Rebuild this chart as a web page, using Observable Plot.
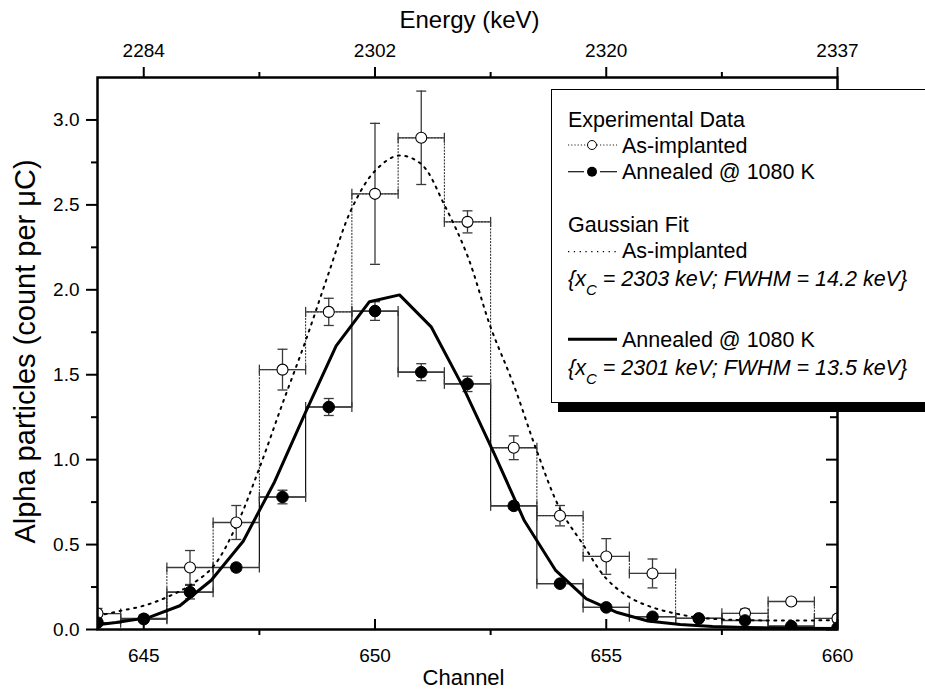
<!DOCTYPE html>
<html>
<head>
<meta charset="utf-8">
<script src="https://cdn.jsdelivr.net/npm/d3@7"></script>
<script src="https://cdn.jsdelivr.net/npm/@observablehq/plot@0.6"></script>
<style>
  body { margin: 0; background: #fff; }
  #chart { width: 925px; height: 693px; }
</style>
</head>
<body>
<div id="chart"></div>
<script>
// ---------- data ----------
const channels = [644,645,646,647,648,649,650,651,652,653,654,655,656,657,658,659,660];
const asImplanted    = [0.094,0.065,0.365,0.63,1.53,1.87,2.565,2.895,2.40,1.07,0.67,0.43,0.33,0.065,0.095,0.165,0.065];
const asImplantedErr = [0.03,0.02,0.10,0.10,0.12,0.08,0.415,0.275,0.065,0.07,0.06,0.105,0.085,0.015,0.025,0.015,0.02];
const annealed       = [0.04,0.061,0.22,0.365,0.78,1.31,1.875,1.515,1.446,0.728,0.27,0.13,0.075,0.065,0.053,0.02,0.01];
const annealedErr    = [0.01,0.01,0.04,0.02,0.04,0.05,0.055,0.05,0.045,0.02,0.015,0.015,0.01,0.01,0.01,0.01,0.01];

// Gaussian fit curves
const fitAsChannel = [644,644.5,645,645.5,646,646.5,647,647.5,648,648.5,649,649.5,650,650.5,651,651.5,652,652.5,653,653.5,654,654.5,655,655.5,656,656.5,657,657.5,658,659,660];
const fitAsValue   = [0.08,0.11,0.14,0.19,0.26,0.37,0.61,0.95,1.33,1.70,2.10,2.48,2.70,2.79,2.74,2.50,2.20,1.78,1.44,1.05,0.71,0.50,0.30,0.19,0.13,0.094,0.07,0.06,0.055,0.053,0.055];
const fitAnChannel = [644,644.4,645.1,645.78,646.46,647.15,647.83,648.5,649.16,649.88,650.53,651.22,651.9,652.57,653.23,653.9,654.57,655.24,655.9,656.6,657.3,658,659,660];
const fitAnValue   = [0.028,0.041,0.07,0.14,0.29,0.52,0.87,1.28,1.67,1.93,1.97,1.78,1.43,1.04,0.64,0.35,0.18,0.10,0.05,0.03,0.018,0.012,0.008,0.006];

// axes
const channelTicks = [645,650,655,660];
const channelMinor = [647.5,652.5,657.5];
const energyLabels = ["2284","2302","2320","2337"];
const yMajor = [0,0.5,1.0,1.5,2.0,2.5,3.0];
const yMinor = [0.25,0.75,1.25,1.75,2.25,2.75];
const xTitle = "Channel";
const x2Title = "Energy (keV)";
const yTitle = "Alpha particles (count per \u03bcC)";

// ---------- build ----------
const asData = channels.map((c, i) => ({c, v: asImplanted[i], e: asImplantedErr[i]}));
const anData = channels.map((c, i) => ({c, v: annealed[i], e: annealedErr[i]}));
const fitAs = fitAsChannel.map((c, i) => ({c, v: fitAsValue[i]}));
const fitAn = fitAnChannel.map((c, i) => ({c, v: fitAnValue[i]}));

const W = 925, H = 693, mL = 97, mR = 88, mT = 77, mB = 64;
const plotW = W - mL - mR, plotH = H - mT - mB;
const FONT = "'Liberation Sans', Arial, Helvetica, sans-serif";

const vCap = {draw(ctx, size) { const r = Math.sqrt(size / Math.PI); ctx.moveTo(0, -r); ctx.lineTo(0, r); }};
const hCap = {draw(ctx, size) { const r = Math.sqrt(size / Math.PI); ctx.moveTo(-r, 0); ctx.lineTo(r, 0); }};
const ebColor = "#3a3a3a";

function errorMarks(data) {
  return [
    Plot.ruleY(data, {y: "v", x1: d => d.c - 0.5, x2: d => d.c + 0.5, stroke: ebColor, strokeWidth: 1.3, clip: true}),
    Plot.dot(data, {x: d => d.c - 0.5, y: "v", symbol: vCap, r: 5, stroke: ebColor, strokeWidth: 1.3, fill: "none", clip: true}),
    Plot.dot(data, {x: d => d.c + 0.5, y: "v", symbol: vCap, r: 5, stroke: ebColor, strokeWidth: 1.3, fill: "none", clip: true}),
    Plot.ruleX(data, {x: "c", y1: d => d.v - d.e, y2: d => d.v + d.e, stroke: ebColor, strokeWidth: 1.3, clip: true}),
    Plot.dot(data, {x: "c", y: d => d.v - d.e, symbol: hCap, r: 5, stroke: ebColor, strokeWidth: 1.3, fill: "none", clip: true}),
    Plot.dot(data, {x: "c", y: d => d.v + d.e, symbol: hCap, r: 5, stroke: ebColor, strokeWidth: 1.3, fill: "none", clip: true})
  ];
}

const chart = Plot.plot({
  width: W, height: H,
  marginLeft: mL, marginRight: mR, marginTop: mT, marginBottom: mB,
  x: {domain: [644, 660], axis: null},
  y: {domain: [0, 3.25], axis: null},
  style: {fontFamily: FONT, fontSize: "19px", color: "#000", background: "#fff", overflow: "visible"},
  marks: [
    // histogram steps
    Plot.line(asData, {x: "c", y: "v", curve: "step", stroke: "#222", strokeWidth: 1, strokeDasharray: "1.2,2", clip: true}),
    Plot.line(anData, {x: "c", y: "v", curve: "step", stroke: "#111", strokeWidth: 1.2, clip: true}),
    // error bars
    ...errorMarks(asData),
    ...errorMarks(anData),
    // gaussian fits
    Plot.line(fitAs, {x: "c", y: "v", curve: "catmull-rom", stroke: "#000", strokeWidth: 2, strokeDasharray: "2,5.5", clip: true}),
    Plot.line(fitAn, {x: "c", y: "v", curve: "linear", stroke: "#000", strokeWidth: 3, strokeLinejoin: "round", clip: true}),
    // data points
    Plot.dot(asData, {x: "c", y: "v", r: 5.5, fill: "#fff", stroke: "#000", strokeWidth: 1.1, clip: true}),
    Plot.dot(anData, {x: "c", y: "v", r: 5.8, fill: "#000", stroke: "#000", strokeWidth: 1, clip: true}),
    // ticks: left (outward)
    Plot.ruleY(yMajor, {y: d => d, insetLeft: -11, insetRight: plotW, strokeWidth: 2}),
    Plot.ruleY(yMinor, {y: d => d, insetLeft: -6, insetRight: plotW, strokeWidth: 2}),
    // right (inward)
    Plot.ruleY(yMajor, {y: d => d, insetLeft: plotW - 11, strokeWidth: 2}),
    Plot.ruleY(yMinor, {y: d => d, insetLeft: plotW - 7, strokeWidth: 2}),
    // top (outward)
    Plot.ruleX(channelTicks, {x: d => d, insetTop: -10, insetBottom: plotH, strokeWidth: 2}),
    Plot.ruleX(channelMinor, {x: d => d, insetTop: -5, insetBottom: plotH, strokeWidth: 2}),
    // bottom
    Plot.ruleX(channelTicks, {x: d => d, insetTop: plotH - 10, strokeWidth: 2}),
    Plot.ruleX(channelMinor, {x: d => d, insetTop: plotH, insetBottom: -6, strokeWidth: 2}),
    Plot.frame({stroke: "#000", strokeWidth: 2.5}),
    // tick labels
    Plot.text(yMajor, {y: d => d, text: d => d.toFixed(1), frameAnchor: "left", textAnchor: "end", dx: -18, fontSize: 19}),
    Plot.text(channelTicks, {x: d => d, text: d => String(d), frameAnchor: "bottom", lineAnchor: "middle", dy: 26, fontSize: 19}),
    Plot.text(channelTicks, {x: d => d, text: (d, i) => energyLabels[i], frameAnchor: "top", lineAnchor: "middle", dy: -27, fontSize: 19}),
    // titles
    Plot.text([xTitle], {frameAnchor: "bottom", textAnchor: "middle", lineAnchor: "middle", dy: 48, dx: -4, fontSize: 22}),
    Plot.text([x2Title], {frameAnchor: "top", textAnchor: "middle", lineAnchor: "middle", dy: -57, dx: 2, fontSize: 24}),
    Plot.text([yTitle], {frameAnchor: "left", textAnchor: "middle", lineAnchor: "middle", rotate: -90, dx: -72, dy: -2, fontSize: 29})
  ]
});

document.getElementById("chart").appendChild(chart);

// ---------- legend ----------
const svg = d3.select(chart);
const L = svg.append("g").attr("font-family", FONT).attr("font-size", 21.5).attr("fill", "#000")
  .attr("text-anchor", "start");
L.append("rect").attr("x", 558).attr("y", 96).attr("width", 400).attr("height", 316).attr("fill", "#000");
L.append("rect").attr("x", 551.5).attr("y", 89.5).attr("width", 400).attr("height", 313)
  .attr("fill", "#fff").attr("stroke", "#000").attr("stroke-width", 1);

const tx = 568, sx1 = 568, sx2 = 617, scx = 592, lx = 622;
L.append("text").attr("x", tx).attr("y", 126.7).text("Experimental Data");

L.append("line").attr("x1", sx1).attr("x2", sx2).attr("y1", 145).attr("y2", 145)
  .attr("stroke", "#222").attr("stroke-dasharray", "1.2,2");
L.append("circle").attr("cx", scx).attr("cy", 145).attr("r", 4.5).attr("fill", "#fff").attr("stroke", "#000");
L.append("text").attr("x", lx).attr("y", 152.7).text("As-implanted");

L.append("line").attr("x1", sx1).attr("x2", 584).attr("y1", 171.7).attr("y2", 171.7)
  .attr("stroke", "#111").attr("stroke-width", 1.2);
L.append("line").attr("x1", 600).attr("x2", sx2).attr("y1", 171.7).attr("y2", 171.7)
  .attr("stroke", "#111").attr("stroke-width", 1.2);
L.append("circle").attr("cx", scx).attr("cy", 171.7).attr("r", 5).attr("fill", "#000");
L.append("text").attr("x", lx).attr("y", 179.3).text("Annealed @ 1080 K");

L.append("text").attr("x", tx).attr("y", 231.7).text("Gaussian Fit");
L.append("line").attr("x1", sx1).attr("x2", sx2).attr("y1", 251.7).attr("y2", 251.7)
  .attr("stroke", "#000").attr("stroke-width", 1.3).attr("stroke-dasharray", "1.3,4.5");
L.append("text").attr("x", lx).attr("y", 258.3).text("As-implanted");

function fitLine(y, xc, rest) {
  const t = L.append("text").attr("x", tx).attr("y", y).attr("font-style", "italic");
  t.append("tspan").text("{x");
  t.append("tspan").attr("dy", 9).attr("font-size", 15).text("C");
  t.append("tspan").attr("dy", -9).text(" = " + xc + " keV; FWHM = " + rest + " keV}");
}
fitLine(285.7, "2303", "14.2");

L.append("line").attr("x1", sx1).attr("x2", sx2).attr("y1", 339.3).attr("y2", 339.3)
  .attr("stroke", "#000").attr("stroke-width", 3);
L.append("text").attr("x", lx).attr("y", 346.7).text("Annealed @ 1080 K");
fitLine(375, "2301", "13.5");
</script>
</body>
</html>
